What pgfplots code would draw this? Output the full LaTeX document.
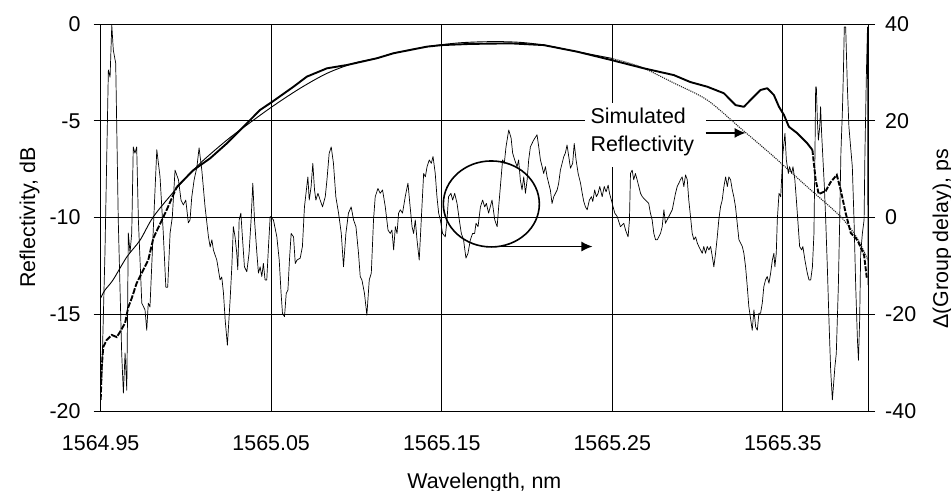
\documentclass[border=0pt]{standalone}
\usepackage{fontspec}
\setmainfont{Liberation Sans}
\usepackage{pgfplots}
\pgfplotsset{compat=1.18}
\usetikzlibrary{arrows.meta}
\newcommand\fs{\fontsize{21.5}{26}\selectfont}
% x values are the wavelength minus 1565 nm (tick labels show the absolute wavelength)
\pgfplotstableread{
x y
-0.0500 -14.16
-0.0475 -13.75
-0.0428 -13.23
-0.0347 -12.04
-0.0269 -11.17
-0.0191 -9.96
-0.0054 -8.49
0.0083 -7.20
0.0240 -6.00
0.0357 -5.22
0.0506 -4.27
0.0670 -3.32
0.0827 -2.55
0.0983 -2.03
0.1120 -1.77
0.1218 -1.51
0.1414 -1.17
0.1609 -0.97
0.1805 -0.91
0.1961 -0.95
0.2098 -1.09
0.2294 -1.43
0.2494 -1.77
}\simleft
\pgfplotstableread{
x y
0.2494 -1.77
0.2665 -2.21
0.2861 -3.05
0.3057 -3.93
0.3253 -5.39
0.3448 -6.86
0.3644 -8.42
0.3840 -9.96
0.3935 -11.05
0.4000 -12.20
}\simright
\pgfplotstableread{
x y
-0.0500 -19.43
-0.0494 -17.73
-0.0485 -16.69
-0.0465 -16.33
-0.0435 -16.07
-0.0406 -16.18
-0.0387 -15.92
-0.0357 -15.45
-0.0338 -14.63
-0.0318 -14.17
-0.0289 -13.39
-0.0259 -12.87
-0.0221 -12.20
-0.0191 -11.06
-0.0113 -9.61
-0.0054 -8.42
}\measleft
\pgfplotstableread{
x y
-0.0054 -8.42
0.0044 -7.55
0.0142 -6.94
0.0240 -6.17
0.0318 -5.48
0.0435 -4.44
0.0506 -4.02
0.0631 -3.24
0.0709 -2.72
0.0827 -2.29
0.0944 -2.12
0.1120 -1.77
0.1218 -1.51
0.1414 -1.17
0.1502 -1.09
0.1668 -1.03
0.1903 -1.00
0.2098 -1.09
0.2294 -1.43
0.2494 -1.86
0.2685 -2.29
0.2861 -2.64
0.2958 -3.00
0.3057 -3.24
0.3155 -3.58
0.3223 -4.19
0.3272 -4.28
0.3311 -3.93
0.3370 -3.41
0.3409 -3.32
0.3448 -3.67
0.3478 -4.28
0.3507 -4.70
0.3536 -5.31
0.3586 -5.65
0.3644 -6.17
0.3674 -6.51
}\measmid
\pgfplotstableread{
x y
0.3674 -6.51
0.3693 -8.06
0.3711 -8.79
0.3752 -8.63
0.3781 -8.17
0.3817 -7.80
0.3840 -8.58
0.3869 -9.77
0.3899 -10.80
0.3938 -11.17
0.3977 -11.94
0.3993 -13.13
}\measright
\pgfplotstableread{
x y
-0.0494 -33.6
-0.0475 -7.3
-0.0455 30.5
-0.0445 29.0
-0.0435 39.8
-0.0426 34.6
-0.0412 31.9
-0.0397 -0.5
-0.0377 -28.0
-0.0367 -36.3
-0.0357 -28.0
-0.0347 -35.7
-0.0338 -3.2
-0.0328 -7.3
-0.0318 -3.2
-0.0309 14.6
-0.0299 13.3
-0.0289 14.6
-0.0279 -0.5
-0.0259 -17.7
-0.0240 -19.1
-0.0230 -23.3
-0.0221 -17.7
-0.0211 -18.5
-0.0191 -2.0
-0.0171 14.0
-0.0152 8.4
-0.0133 -3.2
-0.0118 -14.4
-0.0107 -14.4
-0.0093 -3.2
-0.0080 0.1
-0.0064 9.8
-0.0044 7.8
-0.0029 3.6
-0.0015 2.6
-0.0001 3.6
0.0014 -1.1
0.0024 -0.5
0.0034 4.2
0.0048 7.8
0.0064 10.4
0.0077 14.4
0.0093 9.8
0.0112 2.2
0.0132 -4.0
0.0142 -6.1
0.0152 -4.6
0.0161 -6.7
0.0181 -8.8
0.0200 -12.9
0.0210 -12.3
0.0220 -15.6
0.0230 -21.2
0.0243 -26.4
0.0259 -17.0
0.0269 -10.2
0.0278 -1.9
0.0288 -4.0
0.0298 -7.4
0.0304 -10.8
0.0312 -0.5
0.0322 0.9
0.0331 -4.0
0.0343 -10.2
0.0357 -11.2
0.0370 -7.4
0.0382 -0.5
0.0392 7.1
0.0402 -0.5
0.0416 -7.4
0.0425 -11.5
0.0435 -10.2
0.0445 -12.2
0.0454 -9.5
0.0464 -12.9
0.0474 -12.9
0.0484 -6.0
0.0494 0.2
0.0513 -0.5
0.0533 -4.0
0.0547 -8.8
0.0558 -15.7
0.0566 -19.8
0.0578 -20.5
0.0588 -15.7
0.0598 -15.0
0.0607 -8.8
0.0617 -3.3
0.0631 -4.0
0.0641 -9.5
0.0651 -8.8
0.0670 -8.4
0.0683 -6.0
0.0695 2.2
0.0705 5.3
0.0715 8.4
0.0723 3.6
0.0734 6.4
0.0744 11.2
0.0754 5.7
0.0762 3.6
0.0774 5.0
0.0787 3.6
0.0801 2.2
0.0817 4.3
0.0827 7.8
0.0840 13.3
0.0852 14.6
0.0865 11.2
0.0879 4.3
0.0895 0.9
0.0911 -3.3
0.0924 -10.2
0.0938 -3.3
0.0953 0.9
0.0969 2.2
0.0983 -0.5
0.0997 -1.9
0.1012 -7.4
0.1022 -12.2
0.1032 -12.9
0.1047 -15.7
0.1061 -20.2
0.1075 -12.9
0.1087 -11.5
0.1100 -0.5
0.1110 4.3
0.1126 6.0
0.1139 5.0
0.1153 5.7
0.1169 2.2
0.1185 -2.6
0.1198 -3.3
0.1208 -2.6
0.1218 -6.7
0.1228 -1.9
0.1238 -3.3
0.1247 0.9
0.1257 1.6
0.1270 0.9
0.1286 4.3
0.1302 7.1
0.1311 3.6
0.1326 -1.9
0.1335 -3.3
0.1345 -0.5
0.1355 -4.6
0.1368 -8.8
0.1380 -0.5
0.1394 9.1
0.1404 8.4
0.1414 10.5
0.1427 11.9
0.1439 11.2
0.1449 12.6
0.1462 9.1
0.1472 4.3
0.1482 0.9
0.1492 -0.5
0.1505 -3.3
0.1521 -4.0
0.1531 -0.5
0.1540 4.3
0.1554 5.0
0.1564 3.6
0.1576 5.0
0.1590 2.9
0.1603 -0.5
0.1615 -3.3
0.1628 -4.6
0.1642 -8.4
0.1654 -7.4
0.1668 -4.6
0.1681 -3.3
0.1693 -3.3
0.1701 -1.2
0.1713 -1.9
0.1727 2.2
0.1740 3.6
0.1752 2.2
0.1762 2.9
0.1775 0.9
0.1795 3.6
0.1811 -0.5
0.1825 -1.9
0.1834 2.2
0.1844 6.4
0.1857 11.9
0.1867 11.2
0.1877 14.6
0.1893 18.1
0.1907 16.4
0.1916 13.3
0.1928 11.9
0.1942 10.5
0.1951 11.9
0.1961 7.8
0.1971 5.7
0.1981 8.4
0.1991 5.0
0.2001 7.8
0.2010 11.9
0.2020 14.6
0.2039 16.0
0.2059 17.1
0.2069 14.6
0.2079 11.9
0.2089 10.5
0.2098 9.1
0.2108 10.5
0.2118 8.4
0.2127 7.1
0.2137 5.7
0.2147 2.9
0.2157 4.3
0.2167 5.0
0.2177 5.7
0.2186 7.1
0.2196 9.8
0.2206 11.2
0.2216 12.6
0.2225 13.3
0.2235 15.0
0.2245 12.6
0.2255 10.2
0.2268 11.2
0.2277 15.3
0.2288 11.9
0.2300 9.1
0.2314 7.1
0.2324 5.0
0.2333 3.3
0.2343 2.2
0.2353 1.6
0.2366 3.6
0.2378 4.3
0.2386 3.3
0.2397 5.7
0.2407 4.3
0.2417 5.0
0.2427 6.4
0.2441 4.3
0.2453 6.4
0.2464 5.3
0.2476 6.7
0.2484 5.0
0.2495 3.6
0.2505 2.2
0.2515 0.9
0.2529 0.2
0.2548 -1.9
0.2568 -1.2
0.2578 -2.6
0.2593 -4.0
0.2601 -0.5
0.2607 9.1
0.2617 9.8
0.2626 7.8
0.2636 9.1
0.2646 7.8
0.2656 6.4
0.2666 5.0
0.2676 4.3
0.2695 3.6
0.2714 2.9
0.2724 0.9
0.2734 -0.5
0.2744 -3.3
0.2754 -4.6
0.2764 -4.6
0.2773 -4.0
0.2783 -3.3
0.2793 -1.9
0.2803 1.6
0.2812 -1.2
0.2822 -0.5
0.2832 0.2
0.2852 1.6
0.2871 5.0
0.2881 6.4
0.2891 7.1
0.2900 7.8
0.2910 8.4
0.2920 6.4
0.2930 8.8
0.2940 7.8
0.2949 3.6
0.2959 0.2
0.2969 -3.3
0.2979 -4.6
0.2989 -4.0
0.2999 -5.3
0.3008 -6.0
0.3018 -6.7
0.3028 -7.4
0.3037 -6.0
0.3047 -7.4
0.3057 -6.0
0.3067 -6.7
0.3077 -6.0
0.3087 -8.1
0.3096 -10.2
0.3106 -7.4
0.3116 -4.0
0.3125 -0.5
0.3135 2.2
0.3145 3.6
0.3155 6.4
0.3165 8.4
0.3175 6.4
0.3184 8.4
0.3194 7.8
0.3204 5.7
0.3213 4.3
0.3223 2.2
0.3233 -1.2
0.3243 -4.6
0.3253 -5.3
0.3263 -6.0
0.3272 -7.4
0.3282 -10.2
0.3292 -14.3
0.3301 -18.4
0.3321 -23.3
0.3331 -19.1
0.3341 -22.6
0.3351 -23.3
0.3360 -19.8
0.3370 -19.8
0.3380 -17.7
0.3389 -14.3
0.3399 -12.9
0.3409 -12.2
0.3419 -13.6
0.3429 -11.5
0.3439 -8.8
0.3448 -7.4
0.3454 -10.2
0.3462 -7.4
0.3468 -0.5
0.3478 5.0
0.3488 4.3
0.3501 13.3
0.3513 17.4
0.3521 11.9
0.3533 9.1
0.3540 10.5
0.3552 9.1
0.3560 10.5
0.3571 7.8
0.3580 3.6
0.3591 -1.9
0.3599 -6.0
0.3611 -6.7
0.3618 -6.0
0.3630 -8.8
0.3644 -11.5
0.3654 -12.9
0.3664 -12.9
0.3674 -10.2
0.3683 -3.3
0.3689 13.3
0.3693 27.0
0.3697 27.0
0.3703 20.2
0.3709 16.0
0.3717 18.8
0.3722 22.9
0.3728 17.4
0.3736 11.9
0.3744 6.4
0.3752 -0.5
0.3762 -10.8
0.3771 -21.2
0.3781 -31.5
0.3791 -37.7
0.3800 -33.6
0.3806 -30.8
0.3814 -28.1
0.3826 -14.3
0.3834 -0.5
0.3841 13.3
0.3850 22.2
0.3856 30.5
0.3861 39.4
0.3869 39.4
0.3879 27.0
0.3888 18.8
0.3898 14.6
0.3908 10.5
0.3918 -0.5
0.3928 -14.3
0.3938 -25.3
0.3944 -29.5
0.3951 -21.2
0.3957 -7.4
0.3967 -3.3
0.3977 -0.5
0.3982 13.3
0.3991 30.5
0.3997 39.4
0.4000 -14.0
}\gdelay
\begin{document}
\fs
\begin{tikzpicture}
\useasboundingbox (-100.7bp,-80bp) rectangle (850.3bp,411bp);
\pgfplotsset{
  base/.style={
    at={(0,0)}, anchor=south west,
    scale only axis, width=767.3bp, height=387bp,
    xmin=-0.05, xmax=0.40,
    tick label style={font=\fs, inner sep=0pt},
    label style={font=\fs, inner sep=0pt},
    axis line style={black, line width=0.8bp},
    tick align=outside,
    major tick length=7bp,
  }
}
\begin{axis}[base,
  ymin=-20, ymax=0,
  xtick={-0.05,0.05,0.15,0.25,0.35},
  xticklabels={1564.95,1565.05,1565.15,1565.25,1565.35},
  ytick={-20,-15,-10,-5,0},
  yticklabels={-20,-15,-10,-5,0},
  xtick pos=bottom, ytick pos=left,
  grid=major,
  major grid style={black, line width=0.8bp},
  xtick style={draw=none},
  ytick style={black, line width=0.8bp},
  xticklabel style={anchor=north, yshift=-17bp},
  yticklabel style={anchor=east, xshift=-13bp},
  xlabel={Wavelength, nm},
  xlabel style={at={(axis description cs:0.5,-0.199)}, anchor=base},
  ylabel={Reflectivity, dB},
  ylabel style={at={(axis description cs:-0.0856,0.5)}, anchor=base},
]
\addplot[black, line width=0.9bp, smooth] table[x=x,y=y] {\simleft};
\addplot[black!85, line width=1.1bp, densely dotted, smooth] table[x=x,y=y] {\simright};
\addplot[black, line width=1.9bp, dash pattern=on 6bp off 1.5bp] table[x=x,y=y] {\measleft};
\addplot[black, line width=1.9bp, line join=round] table[x=x,y=y] {\measmid};
\addplot[black, line width=1.9bp, dash pattern=on 5bp off 1.5bp] table[x=x,y=y] {\measright};
\fill[white] (axis cs:0.2343,-4.08) rectangle (axis cs:0.3047,-7.39);
\node[anchor=base west, inner sep=0pt, font=\fs] at (axis cs:0.2372,-5.13) {Simulated};
\node[anchor=base west, inner sep=0pt, font=\fs] at (axis cs:0.2372,-6.60) {Reflectivity};
\draw[black, line width=1.3bp, -{Latex[length=11bp,width=10bp]}] (axis cs:0.3047,-5.63) -- (axis cs:0.3282,-5.63);
\draw[black, line width=1.6bp] (axis cs:0.1791,-9.30) ellipse [x radius=48bp, y radius=43bp];
\draw[black, line width=1.3bp, -{Latex[length=11bp,width=10bp]}] (axis cs:0.1744,-11.50) -- (axis cs:0.2384,-11.50);
\end{axis}
\begin{axis}[base,
  ymin=-40, ymax=40,
  axis x line=none, axis y line*=right,
  ytick={-40,-20,0,20,40},
  yticklabels={-40,-20,0,20,40},
  ytick style={black, line width=0.8bp},
  yticklabel style={anchor=west, xshift=10bp},
  ylabel={Δ(Group delay), ps},
  ylabel style={at={(axis description cs:1.1043,0.4444)}, anchor=base},
]
\addplot[black, line width=0.7bp, line join=round] table[x=x,y=y] {\gdelay};
\end{axis}
\end{tikzpicture}
\end{document}
